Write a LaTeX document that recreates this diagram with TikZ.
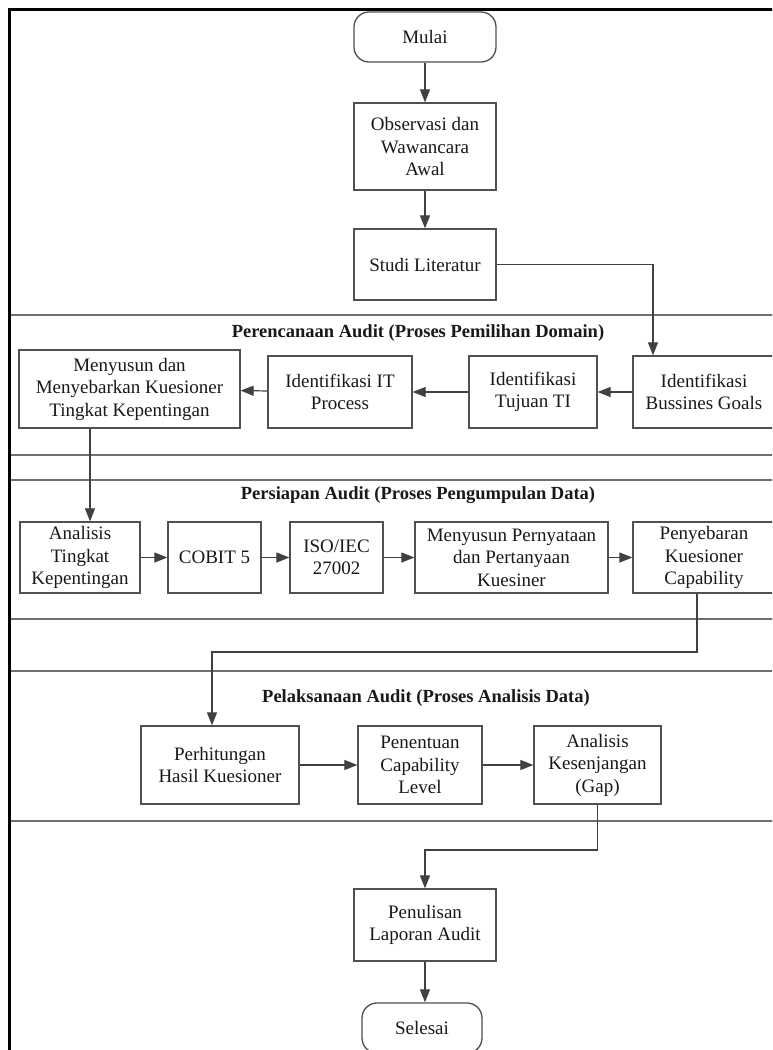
\documentclass[tikz,border=0pt]{standalone}
\usepackage{fontspec}
\setmainfont{Liberation Serif}
\usetikzlibrary{arrows.meta}
\definecolor{boxc}{HTML}{505050}
\definecolor{arrc}{HTML}{404040}
\definecolor{lanec}{HTML}{707070}
\tikzset{
  box/.style={draw=boxc, line width=1.3pt, inner sep=0pt, align=center,
    font=\fontsize{19}{22.5}\selectfont, text=black!90},
  term/.style={box, rounded corners=15pt},
  arr/.style={draw=arrc, line width=1.2pt, -{Triangle[length=13pt,width=10pt]}},
  lane/.style={draw=lanec, line width=1.8pt},
  ttl/.style={font=\bfseries\fontsize{18.5}{22}\selectfont, text=black!90, inner sep=0pt}
}
\begin{document}
\begin{tikzpicture}[x=1pt,y=-1pt]
\clip (0,0) rectangle (772,1050);
\fill[white] (0,0) rectangle (772,1050);
% lanes
\draw[lane] (9,315) rectangle (800,455);
\draw[lane] (9,480) rectangle (800,619);
\draw[lane] (9,671) rectangle (800,821);
% frame
\draw[black, line width=3pt] (9,1080) -- (9,9) -- (800,9);
% titles
\node[ttl] (t1) at (418,333) {Perencanaan Audit (Proses Pemilihan Domain)};
\node[ttl] (t2) at (418,495) {Persiapan Audit (Proses Pengumpulan Data)};
\node[ttl] (t3) at (426,698) {Pelaksanaan Audit (Proses Analisis Data)};
% nodes
\node[term, minimum width=142pt, minimum height=50pt] (mulai) at (425,37) {Mulai};
\node[box, minimum width=142pt, minimum height=87pt] (ob) at (425,146.5) {Observasi dan\\Wawancara\\Awal};
\node[box, minimum width=142pt, minimum height=71pt] (st) at (425,264.5) {Studi Literatur};
\node[box, minimum width=221pt, minimum height=78pt] (mk) at (129.5,389) {Menyusun dan\\Menyebarkan Kuesioner\\Tingkat Kepentingan};
\node[box, minimum width=144pt, minimum height=72pt] (it) at (340,392) {Identifikasi IT\\Process};
\node[box, minimum width=128pt, minimum height=72pt] (tt) at (533,392) {Identifikasi\\Tujuan TI};
\node[box, minimum width=142pt, minimum height=72pt] (bg) at (704,392) {Identifikasi\\Bussines Goals};
\node[box, minimum width=120pt, minimum height=71pt] (an) at (80,557.5) {Analisis\\Tingkat\\Kepentingan};
\node[box, minimum width=93pt, minimum height=71pt] (cb) at (214.5,557.5) {COBIT 5};
\node[box, minimum width=93pt, minimum height=71pt] (iso) at (336.5,557.5) {ISO/IEC\\27002};
\node[box, minimum width=193pt, minimum height=71pt] (mp) at (511.5,557.5) {Menyusun Pernyataan\\dan Pertanyaan\\Kuesiner};
\node[box, minimum width=142pt, minimum height=71pt] (pk) at (704,557.5) {Penyebaran\\Kuesioner\\Capability};
\node[box, minimum width=158pt, minimum height=78pt] (ph) at (220,765) {Perhitungan\\Hasil Kuesioner};
\node[box, minimum width=124pt, minimum height=78pt] (pc) at (420,765) {Penentuan\\Capability\\Level};
\node[box, minimum width=127pt, minimum height=78pt] (ak) at (597.5,765) {Analisis\\Kesenjangan\\(Gap)};
\node[box, minimum width=142pt, minimum height=72pt] (pl) at (425,925) {Penulisan\\Laporan Audit};
\node[term, minimum width=120pt, minimum height=50pt] (sl) at (422,1028) {Selesai};
% helper coordinates
\coordinate (k1) at (653,265);
\coordinate (k2) at (90,428);
\coordinate (k3) at (697,652);
\coordinate (k4) at (212,652);
\coordinate (k5) at (597.5,850);
% connectors
\draw[arr] (mulai) -- (ob);
\draw[arr] (ob) -- (st);
\draw[arr] (st.east) -- (st.east -| k1) -- (k1 |- bg.north);
\draw[arr] (bg) -- (tt);
\draw[arr] (tt) -- (it);
\draw[arr] (it) -- (mk);
\draw[arr] (k2 |- mk.south) -- (k2 |- an.north);
\draw[arr] (an) -- (cb);
\draw[arr] (cb) -- (iso);
\draw[arr] (iso) -- (mp);
\draw[arr] (mp) -- (pk);
\draw[arr] (k3 |- pk.south) -- (k3) -- (k4) -- (k4 |- ph.north);
\draw[arr] (ph) -- (pc);
\draw[arr] (pc) -- (ak);
\draw[arr] (ak.south) -- (k5) -| (pl.north);
\draw[arr] (pl.south) -- (pl.south |- sl.north);
\end{tikzpicture}
\end{document}
